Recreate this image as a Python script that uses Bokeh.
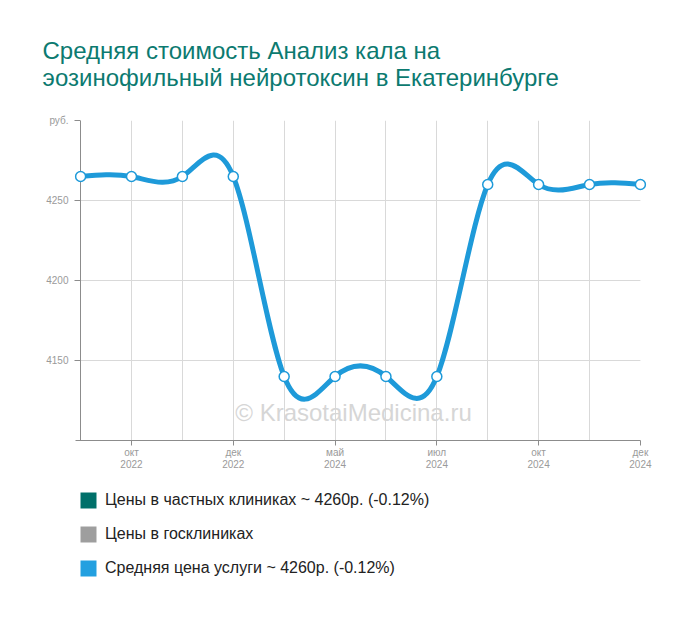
import numpy as np
from bokeh.plotting import figure
from bokeh.layouts import column
from bokeh.models import (Range1d, FixedTicker, Label, Legend, LegendItem, ColumnDataSource, Grid)
from bokeh.embed import file_html
from bokeh.resources import INLINE

# ---- data ----
title_lines = ["Средняя стоимость Анализ кала на",
               "эозинофильный нейротоксин в Екатеринбурге"]
periods = list(range(12))
avg_price = [4265, 4265, 4265, 4265, 4140, 4140, 4140, 4140, 4260, 4260, 4260, 4260]
x_tick_pos = [1, 3, 5, 7, 9, 11]
x_tick_labels = ["окт\n2022", "дек\n2022", "май\n2024", "июл\n2024", "окт\n2024", "дек\n2024"]
y_ticks = [4150, 4200, 4250, 4300]
y_tick_labels = {4300: "руб."}
y_grid_ticks = [4150, 4200, 4250]
legend_labels = ["Цены в частных клиниках ~ 4260р. (-0.12%)",
                 "Цены в госклиниках",
                 "Средняя цена услуги ~ 4260р. (-0.12%)"]
legend_colors = ["#00706a", "#9e9e9e", "#23a0e0"]

FONT = "Liberation Sans"
LINE = "#1e9ad9"
AXIS = "#8c8c8c"
GRID = "#d9d9d9"

p = figure(width=700, height=480, output_backend="svg", toolbar_location=None,
           x_range=Range1d(-0.12, 11.12), y_range=Range1d(4100, 4300),
           min_border_left=74, min_border_right=54, min_border_top=120, min_border_bottom=40)
p.outline_line_color = None

# title
p.title.text = "\n".join(title_lines)
p.title.text_font = FONT
p.title.text_font_size = "24px"
p.title.text_font_style = "normal"
p.title.text_color = "#0c7a70"
p.title.align = "left"
p.title.offset = -32
p.title.standoff = 60
p.title.text_line_height = 1.0

# axes
p.yaxis.ticker = FixedTicker(ticks=y_ticks)
p.yaxis.major_label_overrides = y_tick_labels
p.yaxis.axis_line_color = None
p.yaxis.major_tick_in = 6
p.yaxis.major_tick_out = 0
p.yaxis.major_label_standoff = 6
p.xaxis.ticker = FixedTicker(ticks=x_tick_pos)
p.xaxis.major_label_overrides = {t: l for t, l in zip(x_tick_pos, x_tick_labels)}
p.xaxis.bounds = (-0.1, 11)
p.xaxis.major_tick_in = 0
p.xaxis.major_tick_out = 5
p.xaxis.major_label_standoff = 1
p.xaxis.major_label_text_line_height = 1.1
for ax in (p.xaxis[0], p.yaxis[0]):
    ax.major_tick_line_color = AXIS
    ax.minor_tick_line_color = None
    ax.major_label_text_color = "#9a9a9a"
    ax.major_label_text_font = FONT
    ax.major_label_text_font_size = "10px"
p.xaxis.axis_line_color = AXIS

# grid: vertical lines at each period, horizontal lines spanning the periods only
p.xgrid.ticker = FixedTicker(ticks=list(range(1, 11)))
p.xgrid.grid_line_color = GRID
p.ygrid.visible = False
p.segment(x0=[periods[0]] * len(y_grid_ticks), x1=[periods[-1]] * len(y_grid_ticks),
          y0=y_grid_ticks, y1=y_grid_ticks, line_color=GRID, line_width=1, level="underlay")
# vertical axis line at the first period
p.add_layout(Grid(dimension=0, ticker=FixedTicker(ticks=[0]), grid_line_color=AXIS))

p.add_layout(Label(x=279, y=28, x_units="screen", y_units="screen", text="© KrasotaiMedicina.ru",
                   text_align="center", text_baseline="alphabetic", text_font=FONT,
                   text_font_size="24px", text_color="#d6d6d6", level="underlay"))

# natural cubic spline through the data, drawn as bezier segments
xs = np.array(periods, dtype=float)
ys = np.array(avg_price, dtype=float)
n = len(xs)
A = np.zeros((n, n)); b = np.zeros(n)
A[0, 0] = 1; A[-1, -1] = 1
for i in range(1, n - 1):
    A[i, i - 1] = 1; A[i, i] = 4; A[i, i + 1] = 1
    b[i] = 6 * (ys[i + 1] - 2 * ys[i] + ys[i - 1])
M = np.linalg.solve(A, b)
d0 = (ys[1:] - ys[:-1]) - (2 * M[:-1] + M[1:]) / 6
d1 = (ys[1:] - ys[:-1]) + (M[:-1] + 2 * M[1:]) / 6
seg = ColumnDataSource(dict(x0=xs[:-1], y0=ys[:-1], x1=xs[1:], y1=ys[1:],
                            cx0=xs[:-1] + 1 / 3, cy0=ys[:-1] + d0 / 3,
                            cx1=xs[1:] - 1 / 3, cy1=ys[1:] - d1 / 3))
p.bezier(x0="x0", y0="y0", x1="x1", y1="y1", cx0="cx0", cy0="cy0", cx1="cx1", cy1="cy1",
         source=seg, line_color=LINE, line_width=5)
p.scatter(periods, avg_price, size=10, fill_color="white", line_color=LINE, line_width=1.5)

# ---- legend panel (a second figure beneath the chart) ----
pl = figure(width=700, height=137, output_backend="svg", toolbar_location=None,
            x_range=Range1d(0, 1), y_range=Range1d(0, 1),
            x_axis_type=None, y_axis_type=None,
            min_border_left=74, min_border_right=54, min_border_top=0, min_border_bottom=0)
pl.outline_line_color = None
pl.grid.visible = False
items = []
for lab, col in zip(legend_labels, legend_colors):
    # swatch renderers sit outside the visible range; only their legend glyph shows
    r = pl.quad(left=[-5], right=[-4], top=[-4], bottom=[-5], fill_color=col, line_color=None)
    items.append(LegendItem(label=lab, renderers=[r]))
leg = Legend(items=items, location=(4, 39), orientation="vertical",
             glyph_width=20, glyph_height=20, spacing=14, padding=0, margin=0,
             label_standoff=7, label_text_font=FONT, label_text_font_size="16px",
             label_text_color="#222222", border_line_color=None, background_fill_alpha=0)
pl.add_layout(leg, "center")

layout = column(p, pl, spacing=0)
open("out.html", "w").write(file_html(layout, INLINE))
